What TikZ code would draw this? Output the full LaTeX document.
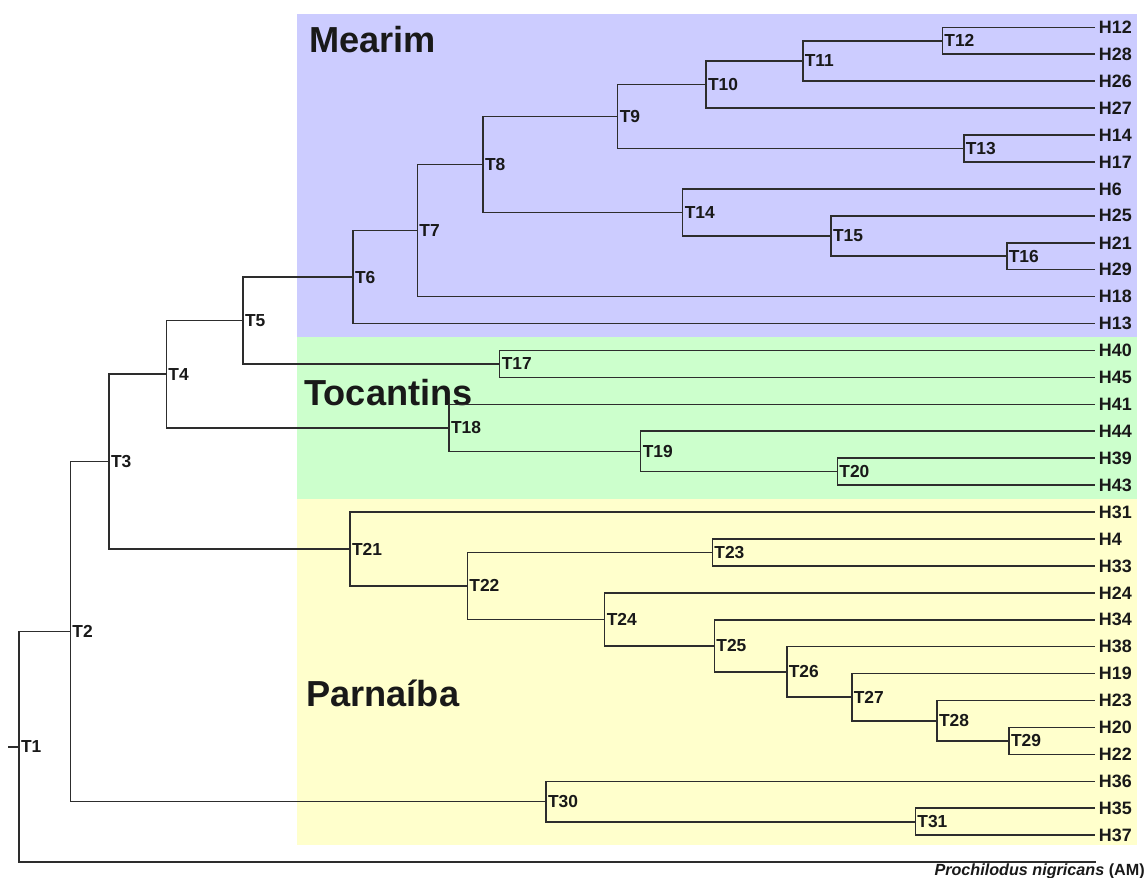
\documentclass[tikz,border=0pt]{standalone}
\usepackage{fontspec}
\setmainfont{Liberation Sans}
\usetikzlibrary{positioning}
\definecolor{rMearim}{RGB}{204,204,255}
\definecolor{rTocantins}{RGB}{204,255,204}
\definecolor{rParnaiba}{RGB}{255,255,204}
\definecolor{rBranch}{RGB}{45,45,45}
\definecolor{rText}{RGB}{25,25,25}

\begin{document}
\begin{tikzpicture}[
		x=0.02cm, y=-0.02cm,
		tn/.style={
			anchor=west,
			inner sep=1pt,
			text=rText,
			font=\fontsize{9.9}{11}\selectfont\bfseries
		},
		hn/.style={
			anchor=west,
			inner xsep=2pt,
			inner ysep=1pt,
			text=rText,
			font=\fontsize{10.2}{12}\selectfont\bfseries
		},
		region/.style={
			anchor=base west,
			inner sep=0pt,
			text=rText,
			font=\fontsize{20.6}{24}\selectfont\bfseries
		},
		br/.style={draw=rBranch, line width=0.9pt}
		]
		\useasboundingbox (0,0) rectangle (1146,877);
		% basins
		\fill[rMearim] (297,14) rectangle (1137,337);
		\fill[rTocantins] (297,337) rectangle (1137,499);
		\fill[rParnaiba] (297,499) rectangle (1137,845);
		\node[region] (mearim) at (309,52.7) {Mearim};
		\node[region] (tocantins) at (304,405) {Tocantins};
		\node[region] (parnaiba) at (306,706) {Parnaíba};
		% haplotypes
		\foreach \h [count=\i from 0] in {H12,H28,H26,H27,H14,H17,H6,H25,H21,H29,H18,H13,H40,H45,H41,H44,H39,H43,H31,H4,H33,H24,H34,H38,H19,H23,H20,H22,H36,H35,H37}
			\node[hn] (\h) at (1095,{27.3+26.93*\i}) {\h};
		% internal nodes
		\node[tn] (T1) at (19,746.85) {T1};
		\node[tn] (T2) at (70.3,631.56) {T2};
		\node[tn] (T3) at (109,461.58) {T3};
		\node[tn] (T4) at (166.3,374.18) {T4};
		\node[tn] (T5) at (243,320.48) {T5};
		\node[tn] (T6) at (353,277.03) {T6};
		\node[tn] (T7) at (417.3,230.54) {T7};
		\node[tn] (T8) at (483,164.48) {T8};
		\node[tn] (T9) at (617.7,116.51) {T9};
		\node[tn] (T10) at (706,84.53) {T10};
		\node[tn] (T11) at (802.7,60.96) {T11};
		\node[tn] (T12) at (942.3,40.77) {T12};
		\node[tn] (T13) at (963.7,148.49) {T13};
		\node[tn] (T14) at (682.7,212.44) {T14};
		\node[tn] (T15) at (831,236.0) {T15};
		\node[tn] (T16) at (1006.7,256.2) {T16};
		\node[tn] (T17) at (499.7,363.93) {T17};
		\node[tn] (T18) at (449,427.88) {T18};
		\node[tn] (T19) at (640.7,451.45) {T19};
		\node[tn] (T20) at (837.3,471.65) {T20};
		\node[tn] (T21) at (350,548.97) {T21};
		\node[tn] (T22) at (467.3,585.89) {T22};
		\node[tn] (T23) at (712.3,552.44) {T23};
		\node[tn] (T24) at (604.7,619.34) {T24};
		\node[tn] (T25) at (714.3,645.85) {T25};
		\node[tn] (T26) at (786.7,671.94) {T26};
		\node[tn] (T27) at (851.7,697.19) {T27};
		\node[tn] (T28) at (937,720.75) {T28};
		\node[tn] (T29) at (1009,740.95) {T29};
		\node[tn] (T30) at (546,801.54) {T30};
		\node[tn] (T31) at (915.3,821.74) {T31};
		% outgroup
		\coordinate (root) at (8,746.85);
		\coordinate (og) at (1096,862.13);
		\node[anchor=base east, inner sep=0pt, text=rText, font=\fontsize{9.2}{10}\selectfont\bfseries] (oglabel) at (1145,875) {\itshape Prochilodus nigricans \upshape(AM)};
		% branches
		\foreach \a/\b in {T1/T2,T2/T3,T2/T30,T3/T4,T3/T21,T4/T5,T4/T18,T5/T6,T5/T17,
			T6/T7,T6/H13,T7/T8,T7/H18,T8/T9,T8/T14,T9/T10,T9/T13,T10/T11,T10/H27,
			T11/T12,T11/H26,T12/H12,T12/H28,T13/H14,T13/H17,T14/H6,T14/T15,
			T15/H25,T15/T16,T16/H21,T16/H29,T17/H40,T17/H45,T18/H41,T18/T19,
			T19/H44,T19/T20,T20/H39,T20/H43,T21/H31,T21/T22,T22/T23,T22/T24,
			T23/H4,T23/H33,T24/H24,T24/T25,T25/H34,T25/T26,T26/H38,T26/T27,
			T27/H19,T27/T28,T28/H23,T28/T29,T29/H20,T29/H22,T30/H36,T30/T31,
			T31/H35,T31/H37}
			\draw[br] (\a.west) |- (\b.west);
		\draw[br] (root) -- (T1.west);
		\draw[br] (T1.west) |- (og);
\end{tikzpicture}
\end{document}
